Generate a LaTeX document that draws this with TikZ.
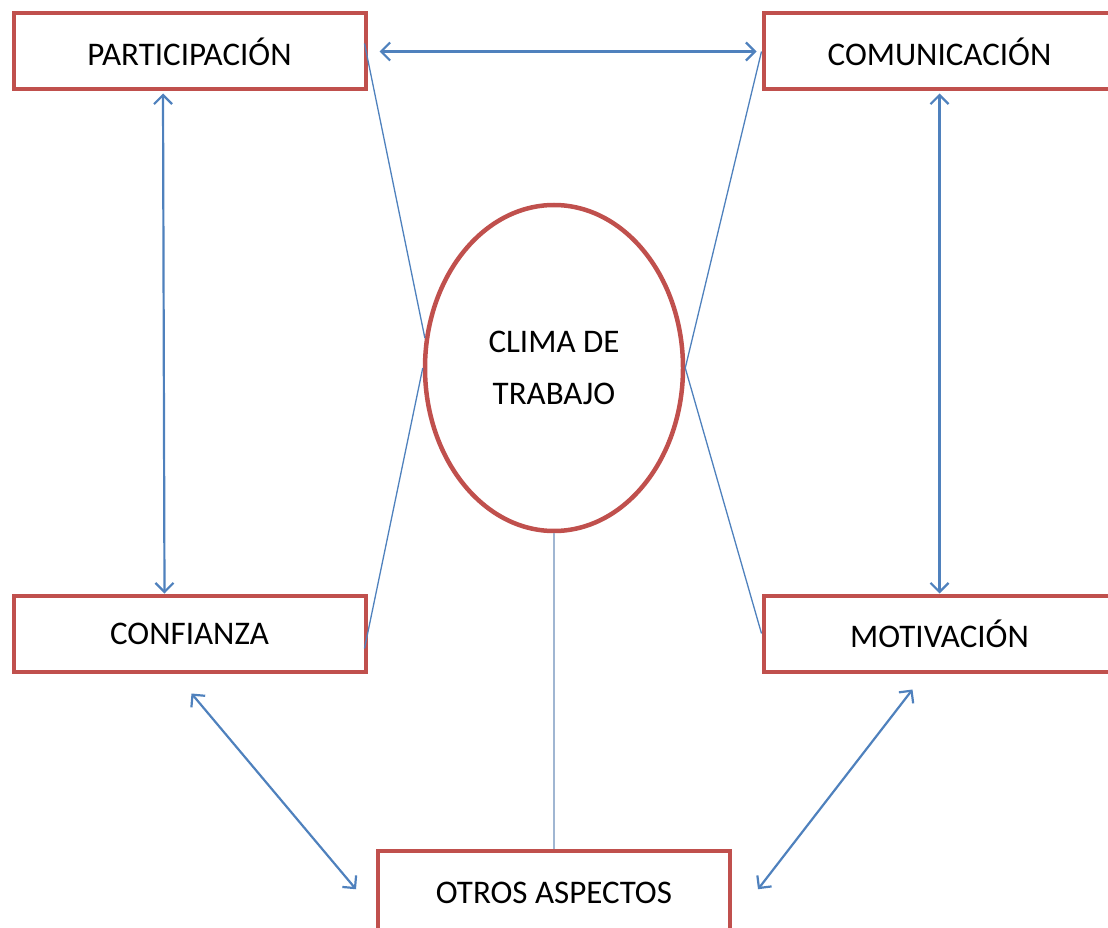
\documentclass[tikz,border=0pt]{standalone}
\usepackage{fontspec}
\setmainfont{Carlito}
\usepackage{tikz}
\usetikzlibrary{arrows.meta,positioning,shapes.geometric}

\definecolor{boxred}{RGB}{192,80,77}
\definecolor{linkblue}{RGB}{79,129,189}
\definecolor{paleblue}{RGB}{160,182,210}

\tikzset{
  factor/.style={draw=boxred, line width=4pt, fill=white, inner sep=0pt,
    minimum width=352pt, minimum height=76pt,
    font=\fontsize{33}{40}\selectfont, text=black},
  link/.style={draw=linkblue, line width=2.2pt,
    {Straight Barb[length=9pt,width=18pt]}-{Straight Barb[length=9pt,width=18pt]}},
  tie/.style={draw=linkblue, line width=1.3pt},
}

\begin{document}
\begin{tikzpicture}[x=1pt,y=-1pt]
  \useasboundingbox (0,0) rectangle (1108,928);
  \node (part) [factor] at (189.5,51.5) {PARTICIPACIÓN};
  \node (com) [factor, right=394pt of part] {COMUNICACIÓN};
  \node (conf) [factor, below=502pt of part] {CONFIANZA};
  \node (mot) [factor, below=502pt of com] {MOTIVACIÓN};
  \node (clima) [ellipse, draw=boxred, line width=4.5pt, inner sep=0pt,
    minimum width=258pt, minimum height=326pt, align=center,
    font=\fontsize{33}{52}\selectfont, text=black] at (554,368)
    {CLIMA DE\\TRABAJO};
  \node (otros) [factor, minimum height=84pt, below=316pt of clima] {OTROS ASPECTOS};
  % lineas al centro
  \draw[tie] ([xshift=-3pt,yshift=8pt]part.east) -- (clima.167);
  \draw[tie] ([xshift=-3pt,yshift=-15pt]conf.east) -- (clima.west);
  \draw[tie] (com.west) -- (clima.east);
  \draw[tie] (mot.west) -- (clima.east);
  \draw[draw=paleblue, line width=2pt] (clima.south) -- (otros.north);
  % flechas dobles
  \draw[link, shorten <=12pt, shorten >=5pt] (part.east) -- (com.west);
  \draw[link] ([xshift=-26.5pt,yshift=-2pt]part.south) -- ([xshift=-25pt]conf.north);
  \draw[link] ([yshift=-2pt]com.south) -- (mot.north);
  \draw[link] ([xshift=2pt,yshift=-20pt]conf.south) -- ([xshift=-20pt,yshift=4pt]otros.west);
  \draw[link] ([xshift=-27pt,yshift=-16pt]mot.south) -- ([xshift=26pt,yshift=4pt]otros.east);
\end{tikzpicture}
\end{document}
